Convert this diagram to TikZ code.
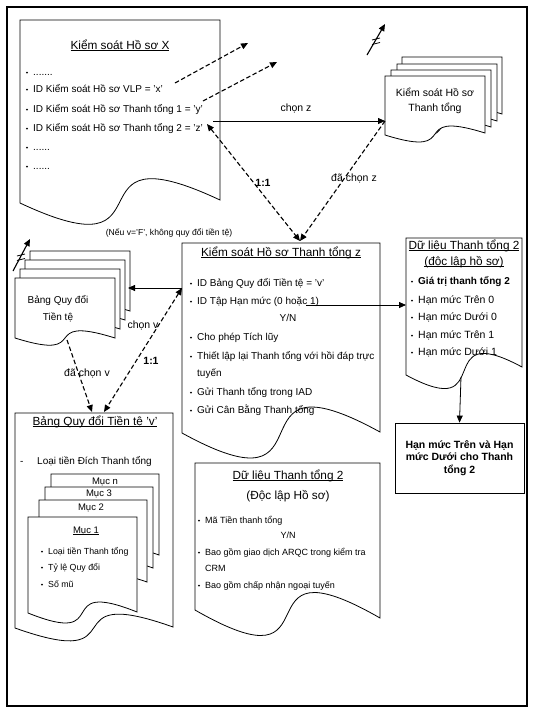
\documentclass[tikz,border=0pt]{standalone}
\usepackage{fontspec}
\setmainfont{Liberation Sans}
\usetikzlibrary{arrows.meta,calc}
\newcommand\ulx[1]{\underline{\smash{#1}}}
% optional style, x0, y0(top), x1, y-left-bottom, y-right-bottom, amplitude
\newcommand\docshape[7][]{%
  \draw[docline,#1] (#2,#5) -- (#2,#3) -- (#4,#3) -- (#4,#6)
    .. controls ({#2+0.2*(#4-#2)},{#6-#7}) and ({#2+0.8*(#4-#2)},{#5+#7}) .. cycle;}
% optional style, name, x, y(middle), text
\newcommand\bitem[5][]{%
  \node[txt,#1] (#2) at (#3,{#4+3.5}) {#5};
  \fill ({#3-6},{#4+0.6}) circle (1.1pt);}
\tikzset{
  docline/.style={line width=0.8pt, fill=white},
  txt/.style={inner sep=0pt, anchor=base west, font=\fontsize{10}{12}\selectfont},
  ttl/.style={inner sep=0pt, font=\fontsize{11.8}{14}\selectfont},
  lbl/.style={inner sep=0pt, font=\fontsize{10.5}{12}\selectfont},
  conn/.style={line width=0.8pt},
  dconn/.style={line width=1.1pt, dash pattern=on 4.5pt off 2.5pt},
  tip/.style={-{Triangle[length=7pt,width=6pt]}},
  tips/.style={{Triangle[length=7pt,width=6pt]}-{Triangle[length=7pt,width=6pt]}},
}
\begin{document}
\begin{tikzpicture}[x=1pt,y=-1pt]
\useasboundingbox (0,0) rectangle (533,713);
\fill[white] (0,0) rectangle (533,713);
\draw[line width=1.2pt] (7,7) rectangle (527,706);

% ---------- Document X ----------
\docshape{20}{20}{220}{203}{200}{75}
\node[ttl] (tx) at (120,50) {\ulx{Kiểm soát Hồ sơ X}};
\bitem{x1}{33}{72}{.......}
\bitem{x2}{33}{89}{ID Kiểm soát Hồ sơ VLP = 'x'}
\bitem{x3}{33}{109}{ID Kiểm soát Hồ sơ Thanh tổng 1 = 'y'}
\bitem{x4}{33}{128}{ID Kiểm soát Hồ sơ Thanh tổng 2 = 'z'}
\bitem{x5}{33}{147}{......}
\bitem{x6}{33}{166}{......}

% ---------- stacked doc top right ----------
\docshape{402}{57}{502}{116}{114}{25}
\docshape{397}{64}{497}{123}{121}{25}
\docshape{391}{70}{491}{129}{127}{25}
\docshape{385}{76}{485}{135}{133}{25}
\node[lbl] (ks) at (435,92) {Kiểm soát Hồ sơ};
\node[lbl] (kt) at (435,108) {Thanh tổng};

% break arrow top right
\coordinate (br1a) at (367,55);
\coordinate (br1b) at (385,24);
\draw[conn,line width=1.1pt,tip] (br1a) -- (br1b);
\draw[conn] (372,40) -- (380,38);
\draw[conn] (372,44.5) -- (380,42.5);

% ---------- stacked doc left ----------
\docshape{30}{251}{130}{311}{311}{25}
\docshape{25}{260}{125}{320}{320}{25}
\docshape{20}{269}{120}{329}{329}{25}
\docshape{15}{278}{115}{338}{338}{25}
\node[lbl,font=\fontsize{10}{12}\selectfont] (bq1) at (58,300) {Bảng Quy đổi};
\node[lbl,font=\fontsize{10}{12}\selectfont] (bq2) at (58,317) {Tiền tệ};

% break arrow left
\coordinate (br2a) at (13,271);
\coordinate (br2b) at (30,239);
\draw[conn,line width=1.1pt,tip] (br2a) -- (br2b);
\draw[conn] (17,256) -- (25,254);
\draw[conn] (17,260.5) -- (25,258.5);

\node[inner sep=0pt,font=\fontsize{8.6}{10}\selectfont] (note) at (169,233) {(Nếu v='F', không quy đổi tiền tệ)};

% ---------- centre box ----------
\docshape{182}{243}{380}{433}{432}{87}
\node[ttl] (tz) at (281,257) {\ulx{Kiểm soát Hồ sơ Thanh tổng z}};
\bitem{z1}{197}{283}{ID Bảng Quy đổi Tiền tệ = 'v'}
\bitem{z2}{197}{301}{ID Tập Hạn mức (0 hoặc 1)}
\node[txt,anchor=base] (zyn) at (288,321.5) {Y/N};
\bitem{z3}{197}{337}{Cho phép Tích lũy}
\bitem{z4}{197}{356}{Thiết lập lại Thanh tổng với hồi đáp trực}
\node[txt] (z4b) at (197,376.5) {tuyến};
\bitem{z5}{197}{392}{Gửi Thanh tổng trong IAD}
\bitem{z6}{197}{410}{Gửi Cân Bằng Thanh tổng}

% ---------- right doc ----------
\docshape{406}{238}{522}{375}{367}{50}
\node[ttl] (r1) at (464,250) {\ulx{Dữ liệu Thanh tổng 2}};
\node[ttl] (r2) at (464,266) {\ulx{(độc lập hồ sơ)}};
\bitem[font=\fontsize{10}{12}\selectfont\bfseries]{ra}{418}{281}{Giá trị thanh tổng 2}
\bitem[font=\fontsize{10.5}{12}\selectfont]{rb}{418}{300}{Hạn mức Trên 0}
\bitem[font=\fontsize{10.5}{12}\selectfont]{rc}{418}{317}{Hạn mức Dưới 0}
\bitem[font=\fontsize{10.5}{12}\selectfont]{rd}{418}{335}{Hạn mức Trên 1}
\bitem[font=\fontsize{10.5}{12}\selectfont]{re}{418}{352}{Hạn mức Dưới 1}

% result box
\node[draw,line width=0.8pt,minimum width=129pt,minimum height=70pt,inner sep=0pt,
      align=center,font=\fontsize{10.5}{12.6}\selectfont\bfseries] (hm) at (459.5,458)
  {Hạn mức Trên và Hạn\\mức Dưới cho Thanh\\tổng 2};

% ---------- bottom-left doc ----------
\docshape{15}{413}{173}{628}{627}{45}
\node[ttl] (bt) at (95,426) {\ulx{Bảng Quy đổi Tiền tệ 'v'}};
\node[txt] (bd) at (20,464.5) {-};
\node[txt] (bl) at (37,464.5) {Loại tiền Đích Thanh tổng};
\docshape{51}{474}{159}{555}{555}{30}
\docshape{45}{487}{153}{568}{568}{30}
\docshape{39}{500}{147}{582}{582}{30}
\docshape{28}{517}{137}{613}{612}{35}
\node[lbl,font=\fontsize{9.5}{11}\selectfont] (mn) at (105,482) {Mục n};
\node[lbl,font=\fontsize{9.5}{11}\selectfont] (m3) at (99,494) {Mục 3};
\node[lbl,font=\fontsize{9.5}{11}\selectfont] (m2) at (91,508) {Mục 2};
\node[lbl,font=\fontsize{9.5}{11}\selectfont] (m1) at (86,534) {\ulx{Mục 1}};
\bitem[font=\fontsize{8.8}{10}\selectfont]{ma}{48}{551}{Loại tiền Thanh tổng}
\bitem[font=\fontsize{8.8}{10}\selectfont]{mb}{48}{567}{Tỷ lệ Quy đổi}
\bitem[font=\fontsize{8.8}{10}\selectfont]{mc}{48}{584}{Số mũ}

% ---------- bottom-centre doc ----------
\docshape{195}{463}{380}{610}{618}{85}
\node[ttl] (c1) at (288,480) {\ulx{Dữ liệu Thanh tổng 2}};
\node[ttl] (c2) at (288,496) {(Độc lập Hồ sơ)};
\bitem[font=\fontsize{9}{11}\selectfont]{ca}{205}{520}{Mã Tiền thanh tổng}
\node[txt,anchor=base,font=\fontsize{9}{11}\selectfont] (cyn) at (288,538.5) {Y/N};
\bitem[font=\fontsize{9}{11}\selectfont]{cb}{205}{552}{Bao gồm giao dịch ARQC trong kiểm tra}
\node[txt,font=\fontsize{9}{11}\selectfont] (cb2) at (205,571.5) {CRM};
\bitem[font=\fontsize{9}{11}\selectfont]{cc}{205}{585}{Bao gồm chấp nhận ngoại tuyến}

% ---------- connectors ----------
\coordinate (px) at (175,83);
\coordinate (pxe) at (248,43);
\coordinate (py) at (203,101);
\coordinate (pye) at (277,62);
\coordinate (pz) at (207,124);
\coordinate (pzs) at (213,121);
\coordinate (stk) at (385,121);
\coordinate (ztop) at (300,241);
\coordinate (zv) at (182,288);
\coordinate (lst) at (128,288);
\coordinate (lbot) at (67,340);
\coordinate (bl1) at (92,412);
\coordinate (bl2) at (104,412);
\coordinate (zh) at (306,305);
\coordinate (rdl) at (406,305);
\coordinate (rdb) at (461,377);

\draw[dconn,tip] (px) -- (pxe);
\draw[dconn,tip] (py) -- (pye);
\draw[conn,tip] (pzs) -- (stk);
\draw[dconn,tips] (pz) -- (ztop);
\draw[dconn,tip] (stk) -- (ztop);
\draw[conn,tip] (zv) -- (lst);
\draw[dconn,tips] (zv) -- (bl2);
\draw[dconn,tip] (lbot) -- (bl1);
\draw[conn,tip] (zh) -- (rdl);
\draw[conn,tip] (rdb) -- (hm.north);

% labels
\node[lbl] (lchz) at (296,108) {chọn z};
\node[lbl,font=\fontsize{10.5}{12}\selectfont\bfseries] (l11a) at (263,183) {1:1};
\node[lbl] (ldcz) at (354,178) {đã chọn z};
\node[lbl] (lchv) at (143,325) {chọn v};
\node[lbl,font=\fontsize{10.5}{12}\selectfont\bfseries] (l11b) at (151,361) {1:1};
\node[lbl] (ldcv) at (87,373) {đã chọn v};
\end{tikzpicture}
\end{document}
